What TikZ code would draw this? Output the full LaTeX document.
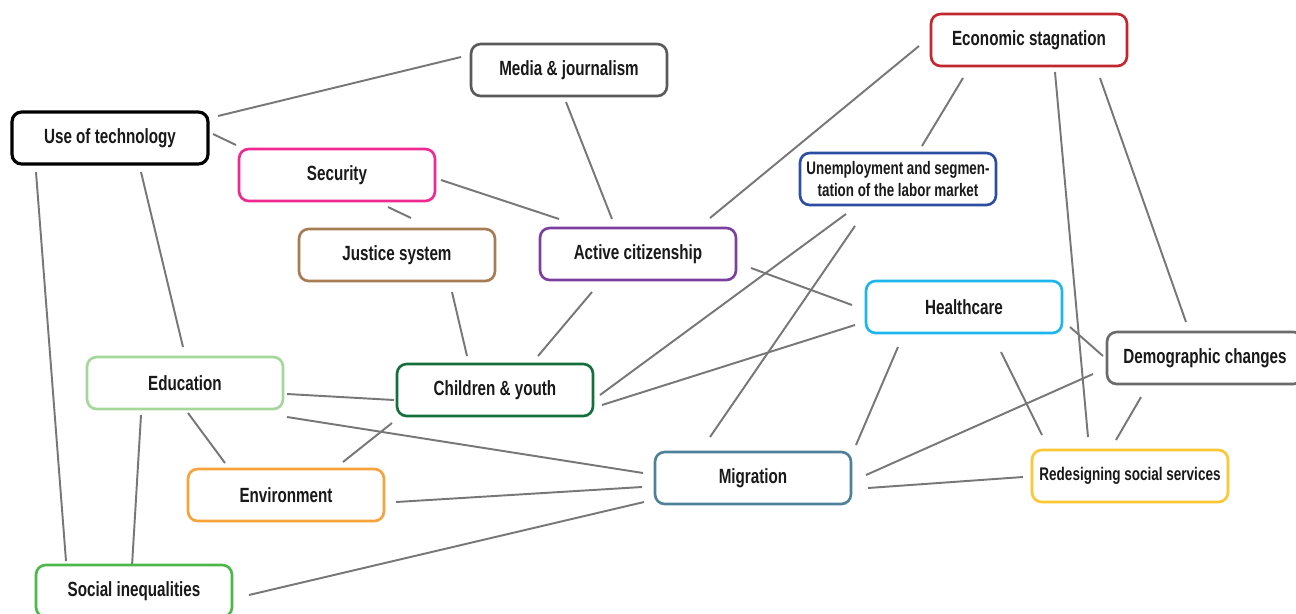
\documentclass[tikz,border=0pt]{standalone}
\usepackage{fontspec}
\setmainfont{Liberation Sans}[FakeStretch=0.74]
\usetikzlibrary{calc,backgrounds}
\definecolor{cmedia}{HTML}{5A5A5A}
\definecolor{csec}{HTML}{EE2A91}
\definecolor{cjust}{HTML}{A67C52}
\definecolor{cact}{HTML}{7B3FA0}
\definecolor{ceco}{HTML}{C1272D}
\definecolor{cunemp}{HTML}{2B4EA2}
\definecolor{chealth}{HTML}{1CB5EC}
\definecolor{cdemo}{HTML}{6B6B6B}
\definecolor{cchild}{HTML}{13703B}
\definecolor{cedu}{HTML}{A5D69A}
\definecolor{cenv}{HTML}{F7A23B}
\definecolor{cmig}{HTML}{4F8299}
\definecolor{cred}{HTML}{FDC634}
\definecolor{csoc}{HTML}{4CB848}
\definecolor{linkgray}{HTML}{777777}
\begin{document}
\begin{tikzpicture}[x=0.02cm,y=-0.02cm,
  box/.style={draw, line width=1.5pt, rounded corners=5.5pt, fill=white,
    minimum width=3.92cm, minimum height=1.04cm, inner sep=1pt, align=center,
    text=black!90, font=\bfseries\fontsize{11.7}{13.4}\selectfont},
  link/.style={draw=linkgray, line width=1.1pt}]
\useasboundingbox (0,0) rectangle (1296,613);

% boxes
\node[box, draw=black, line width=1.8pt] (uot) at (110,138) {Use of technology};
\node[box, draw=cmedia] (media) at (569,70) {Media \& journalism};
\node[box, draw=csec] (sec) at (337,175) {Security};
\node[box, draw=cjust] (just) at (397,255) {Justice system};
\node[box, draw=cact] (act) at (638,254) {Active citizenship};
\node[box, draw=ceco] (eco) at (1029,40) {Economic stagnation};
\node[box, draw=cunemp, font=\bfseries\fontsize{10.3}{12.4}\selectfont] (unemp) at (898,179) {Unemployment and segmen-\\tation of the labor market};
\node[box, draw=chealth] (health) at (964,307) {Healthcare};
\node[box, draw=cdemo] (demo) at (1205,358) {Demographic changes};
\node[box, draw=cchild] (child) at (495,390) {Children \& youth};
\node[box, draw=cedu] (edu) at (185,383) {Education};
\node[box, draw=cenv] (env) at (286,495) {Environment};
\node[box, draw=cmig] (mig) at (753,478) {Migration};
\node[box, draw=cred, font=\bfseries\fontsize{10.4}{11.4}\selectfont] (red) at (1130,476) {Redesigning social services};
\node[box, draw=csoc] (soc) at (134,591) {Social inequalities};

% connectors (behind the boxes)
\begin{pgfonlayer}{background}
\fill[white] (0,0) rectangle (1296,613);
\draw[link] ($(uot)+(108,-22)$) -- ($(media)+(-108,-13)$);
\draw[link] ($(uot)+(103,-4)$) -- ($(sec)+(-101,-30)$);
\draw[link] ($(uot)+(31,34)$) -- ($(edu)+(-2,-36)$);
\draw[link] ($(uot)+(-74,34)$) -- ($(soc)+(-68,-30)$);
\draw[link] ($(sec)+(51,32)$) -- ($(just)+(14,-37)$);
\draw[link] ($(sec)+(104,5)$) -- ($(act)+(-79,-35)$);
\draw[link] ($(media)+(-3,32)$) -- ($(act)+(-26,-35)$);
\draw[link] ($(eco)+(-110,6)$) -- ($(act)+(72,-36)$);
\draw[link] ($(eco)+(-66,38)$) -- ($(unemp)+(24,-33)$);
\draw[link] ($(eco)+(26,32)$) -- ($(red)+(-42,-39)$);
\draw[link] ($(eco)+(71,38)$) -- ($(demo)+(-19,-36)$);
\draw[link] ($(just)+(55,37)$) -- ($(child)+(-28,-34)$);
\draw[link] ($(act)+(-46,38)$) -- ($(child)+(43,-34)$);
\draw[link] ($(act)+(113,14)$) -- ($(health)+(-112,-2)$);
\draw[link] ($(unemp)+(-52,35)$) -- ($(child)+(105,5)$);
\draw[link] ($(unemp)+(-43,47)$) -- ($(mig)+(-43,-41)$);
\draw[link] ($(health)+(-109,18)$) -- ($(child)+(107,15)$);
\draw[link] ($(health)+(-66,40)$) -- ($(mig)+(103,-33)$);
\draw[link] ($(health)+(37,45)$) -- ($(red)+(-88,-41)$);
\draw[link] ($(health)+(106,20)$) -- ($(demo)+(-102,-2)$);
\draw[link] ($(demo)+(-64,39)$) -- ($(red)+(-14,-36)$);
\draw[link] ($(demo)+(-112,16)$) -- ($(mig)+(113,-3)$);
\draw[link] ($(edu)+(102,11)$) -- ($(child)+(-101,10)$);
\draw[link] ($(edu)+(3,30)$) -- ($(env)+(-61,-32)$);
\draw[link] ($(edu)+(102,34)$) -- ($(mig)+(-110,-5)$);
\draw[link] ($(edu)+(-44,32)$) -- ($(soc)+(-2,-25)$);
\draw[link] ($(child)+(-103,33)$) -- ($(env)+(57,-33)$);
\draw[link] ($(env)+(110,7)$) -- ($(mig)+(-111,9)$);
\draw[link] ($(mig)+(115,10)$) -- ($(red)+(-107,1)$);
\draw[link] ($(mig)+(-109,24)$) -- ($(soc)+(115,4)$);
\end{pgfonlayer}
\end{tikzpicture}
\end{document}
